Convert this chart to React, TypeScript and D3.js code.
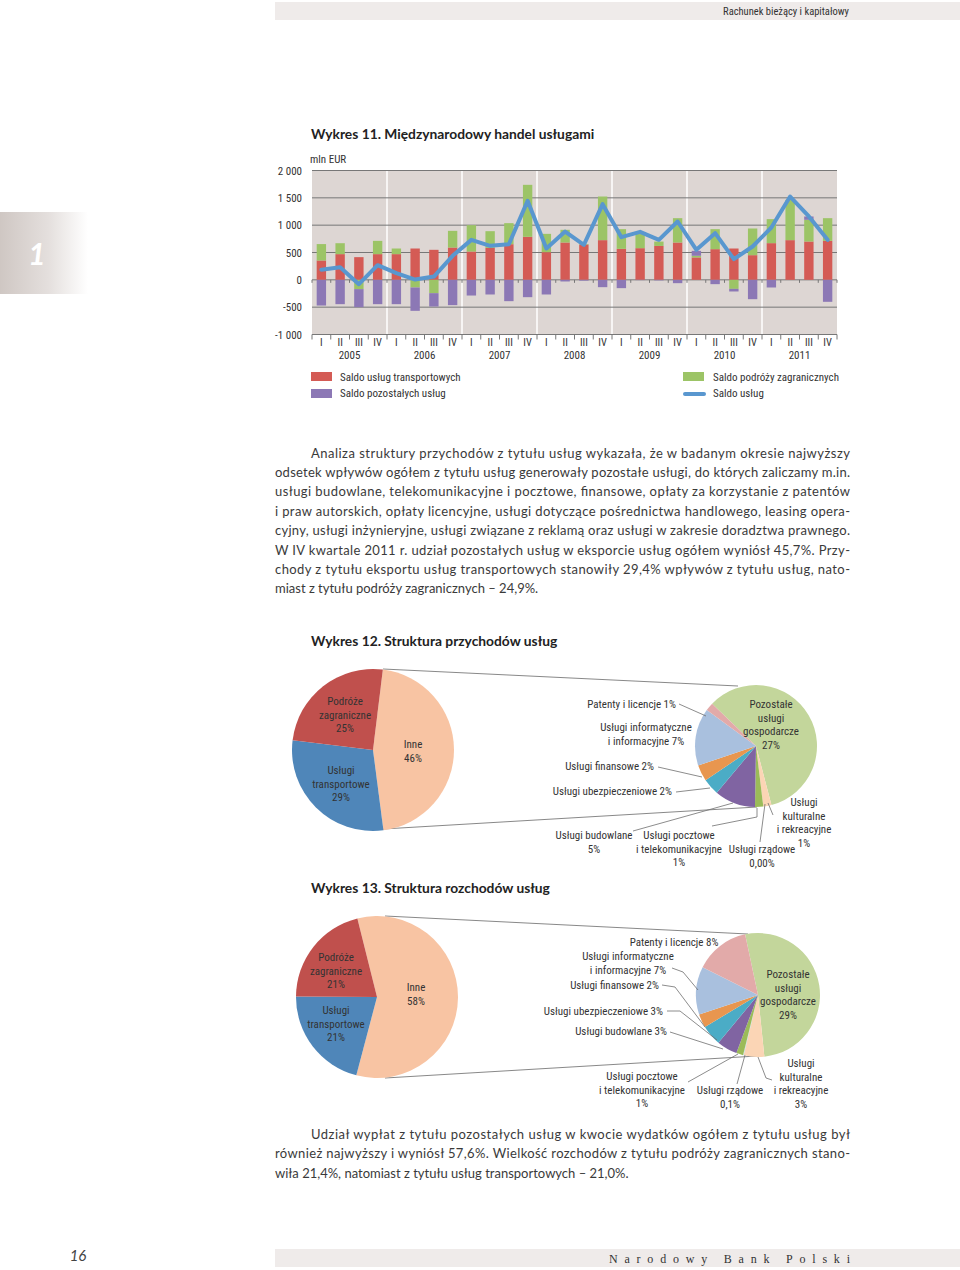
import React from 'react';
import * as d3 from 'd3';

// ---------- DATA ----------
const years = ['2005', '2006', '2007', '2008', '2009', '2010', '2011'];
const quarterNames = ['I', 'II', 'III', 'IV'];
const transportBalance = [354, 470, 415, 470, 470, 573, 549, 591, 518, 585, 652, 787, 506, 683, 646, 726, 567, 579, 620, 683, 410, 561, 573, 451, 671, 726, 701, 713];
const travelBalance = [300, 200, -170, 243, 103, -140, -244, 305, 482, 305, 385, 951, 335, 232, 10, 798, 360, 290, 80, 445, 30, 366, -165, 488, 439, 737, 397, 415];
const otherBalance = [-470, -445, -330, -445, -445, -427, -244, -463, -287, -268, -390, -317, -268, -30, -15, -134, -152, -5, -10, -61, 90, -79, -48, -354, -140, 0, 61, -402];
const servicesBalance = [183, 232, -80, 268, 122, 5, 60, 439, 731, 622, 652, 1445, 573, 884, 640, 1384, 780, 878, 732, 1067, 549, 854, 378, 610, 957, 1524, 1159, 732];
const yTickValues = [-1000, -500, 0, 500, 1000, 1500, 2000];
const yTickLabels = ['-1 000', '-500', '0', '500', '1 000', '1 500', '2 000'];
const seriesKeys = ['transport', 'travel', 'other'];
const seriesNames = ['Saldo usług transportowych', 'Saldo podróży zagranicznych', 'Saldo pozostałych usług', 'Saldo usług'];

const exportMainValues = [46, 29, 25];
const exportMainLabels = [['Inne', '46%'], ['Usługi', 'transportowe', '29%'], ['Podróże', 'zagraniczne', '25%']];
const exportOtherValues = [27, 1, 0, 1, 5, 2, 2, 7, 1];
const exportOtherLabels = [
  ['Pozostałe', 'usługi', 'gospodarcze', '27%'],
  ['Usługi', 'kulturalne', 'i rekreacyjne', '1%'],
  ['Usługi rządowe', '0,00%'],
  ['Usługi pocztowe', 'i telekomunikacyjne', '1%'],
  ['Usługi budowlane', '5%'],
  ['Usługi ubezpieczeniowe 2%'],
  ['Usługi finansowe 2%'],
  ['Usługi informatyczne', 'i informacyjne 7%'],
  ['Patenty i licencje 1%'],
];
const importMainValues = [58, 21, 21];
const importMainLabels = [['Inne', '58%'], ['Usługi', 'transportowe', '21%'], ['Podróże', 'zagraniczne', '21%']];
const importOtherValues = [29, 3, 0.1, 1, 3, 3, 2, 7, 8];
const importOtherLabels = [
  ['Pozostałe', 'usługi', 'gospodarcze', '29%'],
  ['Usługi', 'kulturalne', 'i rekreacyjne', '3%'],
  ['Usługi rządowe', '0,1%'],
  ['Usługi pocztowe', 'i telekomunikacyjne', '1%'],
  ['Usługi budowlane 3%'],
  ['Usługi ubezpieczeniowe 3%'],
  ['Usługi finansowe 2%'],
  ['Usługi informatyczne', 'i informacyjne 7%'],
  ['Patenty i licencje 8%'],
];

const para1 = [
  'Analiza struktury przychodów z tytułu usług wykazała, że w badanym okresie najwyższy',
  'odsetek wpływów ogółem z tytułu usług generowały pozostałe usługi, do których zaliczamy m.in.',
  'usługi budowlane, telekomunikacyjne i pocztowe, finansowe, opłaty za korzystanie z patentów',
  'i praw autorskich, opłaty licencyjne, usługi dotyczące pośrednictwa handlowego, leasing opera-',
  'cyjny, usługi inżynieryjne, usługi związane z reklamą oraz usługi w zakresie doradztwa prawnego.',
  'W IV kwartale 2011 r. udział pozostałych usług w eksporcie usług ogółem wyniósł 45,7%. Przy-',
  'chody z tytułu eksportu usług transportowych stanowiły 29,4% wpływów z tytułu usług, nato-',
  'miast z tytułu podróży zagranicznych – 24,9%.',
];
const para2 = [
  'Udział wypłat z tytułu pozostałych usług w kwocie wydatków ogółem z tytułu usług był',
  'również najwyższy i wyniósł 57,6%. Wielkość rozchodów z tytułu podróży zagranicznych stano-',
  'wiła 21,4%, natomiast z tytułu usług transportowych – 21,0%.',
];

// ---------- STYLE ----------
const NARROW = "'Liberation Sans Narrow', 'Arial Narrow', 'Roboto Condensed', 'DejaVu Sans Condensed', sans-serif";
const BODY = "Lato, 'Open Sans', sans-serif";
const TXT = '#333';
const barColors: Record<string, string> = { transport: '#d45b55', travel: '#9cc466', other: '#8c78b5' };
const lineColor = '#5997cf';
const mainColors = ['#f8c4a3', '#4f86b9', '#c0504d'];
const otherColors = ['#c3d69b', '#fbd5b5', '#b7dee8', '#9bbb59', '#8064a2', '#4bacc6', '#e8964f', '#a9c0de', '#e2aaa9'];

const rad = (deg: number) => (deg * Math.PI) / 180;

type Lbl = { x: number; y: number; anchor?: string };
function MultiText({ lines, x, y, anchor = 'middle', size = 11, lh = 13.5 }: any) {
  return (
    <g>
      {lines.map((l: string, i: number) => (
        <text key={i} x={x} y={y + i * lh + 4} textAnchor={anchor} fontSize={size} fontFamily={NARROW} fill={TXT}>
          {l}
        </text>
      ))}
    </g>
  );
}

function Pie({ values, colors, cx, cy, r, start }: any) {
  const pie = d3.pie<number>().sort(null).value((d) => d).startAngle(rad(start)).endAngle(rad(start) + 2 * Math.PI);
  const arc = d3.arc<d3.PieArcDatum<number>>().innerRadius(0).outerRadius(r);
  return (
    <g transform={`translate(${cx},${cy})`}>
      {pie(values).map((a, i) => (
        <path key={i} d={arc(a) || ''} fill={colors[i]} stroke="none" />
      ))}
    </g>
  );
}

function BarChart() {
  const x0 = 312, x1 = 837, yTop = 170.5, yBot = 334.5;
  const n = transportBalance.length;
  const x = d3.scaleBand<number>().domain(d3.range(n)).range([x0, x1]).paddingInner(0.5).paddingOuter(0.25);
  const y = d3.scaleLinear().domain([-1000, 2000]).range([yBot, yTop]);
  const step = x.step();
  const rows = d3.range(n).map((i) => ({ transport: transportBalance[i], travel: travelBalance[i], other: otherBalance[i] }));
  const stacked = d3.stack<any>().keys(seriesKeys).offset(d3.stackOffsetDiverging)(rows);
  const cxOf = (i: number) => (x(i) as number) + x.bandwidth() / 2;
  const line = d3.line<number>().x((_, i) => cxOf(i)).y((d) => y(d));
  return (
    <g>
      <rect x={x0} y={yTop} width={x1 - x0} height={yBot - yTop} fill="#ddd6d3" />
      {d3.range(1, years.length).map((j) => (
        <line key={j} x1={x0 + j * 4 * step} x2={x0 + j * 4 * step} y1={yTop} y2={yBot} stroke="#fff" strokeWidth={1.5} />
      ))}
      {yTickValues.map((v, i) => (
        <g key={v}>
          <line x1={x0} x2={x1} y1={y(v)} y2={y(v)} stroke="#777" strokeWidth={1} />
          <text x={302} y={y(v) + 4} textAnchor="end" fontSize={11} fontFamily={NARROW} fill={TXT}>
            {yTickLabels[i]}
          </text>
        </g>
      ))}
      {stacked.map((s) => (
        <g key={s.key}>
          {s.map((d, i) => {
            const top = y(Math.max(d[0], d[1]));
            const bot = y(Math.min(d[0], d[1]));
            if (bot - top < 0.01) return null;
            return <rect key={i} x={x(i)} y={top} width={x.bandwidth()} height={bot - top} fill={barColors[s.key]} />;
          })}
        </g>
      ))}
      {d3.range(n + 1).map((k) => (
        <g key={k}>
          <line x1={x0 + k * step} x2={x0 + k * step} y1={y(0)} y2={y(0) + 3} stroke="#777" strokeWidth={1} />
          <line x1={x0 + k * step} x2={x0 + k * step} y1={yBot} y2={yBot + 5} stroke="#777" strokeWidth={1} />
        </g>
      ))}
      <path d={line(servicesBalance) || ''} fill="none" stroke={lineColor} strokeWidth={4} strokeLinejoin="round" strokeLinecap="round" />
      {d3.range(n).map((i) => (
        <text key={i} x={cxOf(i)} y={346} textAnchor="middle" fontSize={10.5} fontFamily={NARROW} fill={TXT}>
          {quarterNames[i % 4]}
        </text>
      ))}
      {years.map((yr, j) => (
        <text key={yr} x={x0 + (4 * j + 2) * step} y={359} textAnchor="middle" fontSize={11} fontFamily={NARROW} fill={TXT}>
          {yr}
        </text>
      ))}
      <text x={310} y={163} fontSize={11} fontFamily={NARROW} fill={TXT}>mln EUR</text>
      {/* legend */}
      <rect x={311} y={372} width={21} height={9} fill={barColors.transport} />
      <text x={340} y={381} fontSize={11} fontFamily={NARROW} fill={TXT}>{seriesNames[0]}</text>
      <rect x={311} y={389} width={21} height={9} fill={barColors.other} />
      <text x={340} y={397} fontSize={11} fontFamily={NARROW} fill={TXT}>{seriesNames[2]}</text>
      <rect x={683} y={372} width={21} height={9} fill={barColors.travel} />
      <text x={713} y={381} fontSize={11} fontFamily={NARROW} fill={TXT}>{seriesNames[1]}</text>
      <line x1={685} x2={704} y1={394} y2={394} stroke={lineColor} strokeWidth={4} strokeLinecap="round" />
      <text x={713} y={397} fontSize={11} fontFamily={NARROW} fill={TXT}>{seriesNames[3]}</text>
    </g>
  );
}

function Paragraph({ lines, y0, lh }: { lines: string[]; y0: number; lh: number }) {
  return (
    <g>
      {lines.map((l, i) => {
        const xs = i === 0 ? 311 : 275;
        const last = i === lines.length - 1;
        return (
          <text key={i} x={xs} y={y0 + i * lh} fontSize={13} fontFamily={BODY} fill="#3a3a3a"
            {...(last ? {} : { textLength: 850 - xs, lengthAdjust: 'spacing' })}>
            {l}
          </text>
        );
      })}
    </g>
  );
}

const leader = (pts: number[][], k: number) => (
  <polyline key={k} points={pts.map((p) => p.join(',')).join(' ')} fill="none" stroke="#6e6e6e" strokeWidth={0.8} />
);

export default function App() {
  // label layouts (positions only)
  const exMainPos: Lbl[] = [{ x: 413, y: 744 }, { x: 341, y: 770 }, { x: 345, y: 701 }];
  const imMainPos: Lbl[] = [{ x: 416, y: 987 }, { x: 336, y: 1010 }, { x: 336, y: 957 }];
  const exOtherPos: Lbl[] = [
    { x: 771, y: 704 }, { x: 804, y: 802 }, { x: 762, y: 849 }, { x: 679, y: 835 }, { x: 594, y: 835 },
    { x: 672, y: 791, anchor: 'end' }, { x: 654, y: 766, anchor: 'end' }, { x: 646, y: 727 }, { x: 676, y: 704, anchor: 'end' },
  ];
  const imOtherPos: Lbl[] = [
    { x: 788, y: 974 }, { x: 801, y: 1063 }, { x: 730, y: 1090 }, { x: 642, y: 1076 }, { x: 667, y: 1031, anchor: 'end' },
    { x: 663, y: 1011, anchor: 'end' }, { x: 659, y: 985, anchor: 'end' }, { x: 628, y: 956 }, { x: 674, y: 942 },
  ];
  const exLeaders = [
    [[679, 704], [706, 716]],
    [[658, 767], [702, 777]],
    [[676, 792], [710, 788]],
    [[633, 831], [733, 803]],
    [[712, 826], [757, 817], [757, 808]],
    [[760, 842], [765, 804]],
    [[773, 815], [768, 803]],
  ];
  const imLeaders = [
    [[672, 968], [683, 972], [698, 990]],
    [[662, 985], [675, 987], [705, 1027]],
    [[667, 1011], [680, 1011], [717, 1040]],
    [[670, 1032], [723, 1049]],
    [[688, 1082], [738, 1054]],
    [[737, 1084], [745, 1055]],
    [[772, 1080], [766, 1078], [758, 1057]],
  ];
  const titleSize = 13.8;
  return (
    <svg width={960} height={1270} style={{ position: 'absolute', left: 0, top: 0, background: '#fff' }}>
      <defs>
        <linearGradient id="tabGrad" x1="0" x2="1" y1="0" y2="0">
          <stop offset="0" stopColor="#cfc7c3" />
          <stop offset="0.55" stopColor="#e4dfdd" />
          <stop offset="1" stopColor="#ffffff" />
        </linearGradient>
      </defs>
      {/* header */}
      <rect x={275} y={2} width={685} height={18} fill="#efebea" />
      <text x={849} y={15} textAnchor="end" fontSize={10.5} fontFamily={NARROW} fill={TXT}>Rachunek bieżący i kapitałowy</text>
      {/* chapter tab */}
      <rect x={0} y={212} width={88} height={82} fill="url(#tabGrad)" />
      <text x={37} y={265} textAnchor="middle" fontSize={30} fontWeight="bold" fontStyle="italic" fontFamily={BODY} fill="#fff">1</text>

      <text x={311} y={139} fontSize={titleSize} fontWeight="bold" fontFamily={BODY} fill="#222">Wykres 11. Międzynarodowy handel usługami</text>
      <BarChart />

      <Paragraph lines={para1} y0={457.5} lh={19.4} />

      <text x={311} y={646} fontSize={titleSize} fontWeight="bold" fontFamily={BODY} fill="#222">Wykres 12. Struktura przychodów usług</text>
      {/* connectors */}
      <line x1={383} y1={669} x2={738} y2={686} stroke="#7a7a7a" strokeWidth={0.9} />
      <line x1={383} y1={829} x2={757} y2={807} stroke="#7a7a7a" strokeWidth={0.9} />
      <Pie values={exportMainValues} colors={mainColors} cx={373} cy={750} r={81} start={7} />
      {exportMainLabels.map((l, i) => <MultiText key={i} lines={l} x={exMainPos[i].x} y={exMainPos[i].y} />)}
      <Pie values={exportOtherValues} colors={otherColors} cx={756} cy={746} r={61} start={-46} />
      {exLeaders.map((p, i) => leader(p, i))}
      {exportOtherLabels.map((l, i) => (
        <MultiText key={i} lines={l} x={exOtherPos[i].x} y={exOtherPos[i].y} anchor={exOtherPos[i].anchor || 'middle'} />
      ))}

      <text x={311} y={893} fontSize={titleSize} fontWeight="bold" fontFamily={BODY} fill="#222">Wykres 13. Struktura rozchodów usług</text>
      <line x1={385} y1={916} x2={748} y2={934} stroke="#7a7a7a" strokeWidth={0.9} />
      <line x1={385} y1={1078} x2={757} y2={1056} stroke="#7a7a7a" strokeWidth={0.9} />
      <Pie values={importMainValues} colors={mainColors} cx={377} cy={997} r={81} start={-14} />
      {importMainLabels.map((l, i) => <MultiText key={i} lines={l} x={imMainPos[i].x} y={imMainPos[i].y} />)}
      <Pie values={importOtherValues} colors={otherColors} cx={758} cy={995} r={62} start={-12} />
      {imLeaders.map((p, i) => leader(p, i))}
      {importOtherLabels.map((l, i) => (
        <MultiText key={i} lines={l} x={imOtherPos[i].x} y={imOtherPos[i].y} anchor={imOtherPos[i].anchor || 'middle'} />
      ))}

      <Paragraph lines={para2} y0={1138.5} lh={19.5} />

      {/* footer */}
      <text x={78} y={1261} textAnchor="middle" fontSize={15} fontStyle="italic" fontFamily={BODY} fill="#444">16</text>
      <rect x={275} y={1249} width={685} height={18} fill="#efebea" />
      <text x={609} y={1263} fontSize={12} fontFamily="'Liberation Serif', serif" fill="#333" textLength={241} lengthAdjust="spacing">Narodowy Bank Polski</text>
    </svg>
  );
}
